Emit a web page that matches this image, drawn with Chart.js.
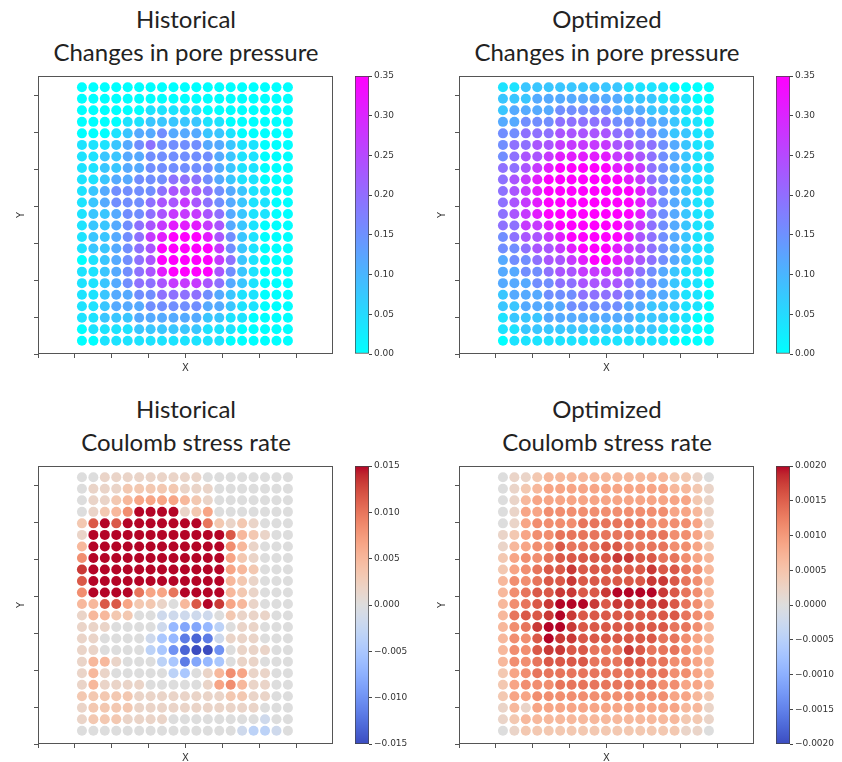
<!DOCTYPE html>
<html>
<head>
<meta charset="utf-8">
<script src="https://cdn.jsdelivr.net/npm/chart.js@4.4.0/dist/chart.umd.min.js"></script>
<style>
  html, body { margin: 0; padding: 0; background: #fff; }
  body { position: relative; width: 842px; height: 762px; overflow: hidden; }
  .title {
    position: absolute; width: 320px; text-align: center;
    font-family: Lato, "Open Sans", sans-serif; font-size: 24px; line-height: 33px; color: #222;
  }
  canvas { position: absolute; }
</style>
</head>
<body>
<div id="stage"></div>
<script>
// Grid values, one string per row (top row first), one character per column.
// Digits 0-9 are positive levels, letters a-i are negative levels -1..-9.
const HIST_PORE = [
  "0000000000000000000",
  "0000000000000000000",
  "0000001111100000000",
  "0000112222211000000",
  "0001233433322100000",
  "1112345444433211000",
  "1122334444443211000",
  "1122334444443211000",
  "1123344455543211000",
  "1234444566654321100",
  "1234445667654321100",
  "1223445677765321100",
  "1223456788876321000",
  "1223457899986421000",
  "1223456999997421000",
  "0123456999997521000",
  "1123456899996421000",
  "1123455677765321000",
  "1123344555543211000",
  "1123334444433211000",
  "1122233333322110000",
  "0111122222211100000",
  "0011111111111000000"
];
const OPT_PORE = [
  "1122222222211110000",
  "2223333333322211100",
  "2333344444333222110",
  "3344455555444332110",
  "4455566666554432211",
  "4556677777665543211",
  "4566788888776543211",
  "5567899999887543211",
  "5678999999987543211",
  "5678999999998643211",
  "5678999999998643211",
  "5678999999998543211",
  "5577899999987543211",
  "4566789999986543211",
  "4456678999876543211",
  "3445667899876543211",
  "3344566777765432110",
  "3334455666654432110",
  "2333444555544332110",
  "2233334444433222110",
  "1222333333332221100",
  "1122222222222211100",
  "0111111111111110000"
];
const HIST_CFS = [
  "0011111111100000000",
  "0111222221110000000",
  "0112344443210000000",
  "0123599991240000000",
  "2797999999962121000",
  "1999999999999732100",
  "3999999999999531000",
  "5999999999999421000",
  "8999999999999432000",
  "7999999999999321000",
  "5999964469999321000",
  "3377422103798431000",
  "1332200aaaaa0211100",
  "1110000adeedb011000",
  "110000acdghga111000",
  "110000bcfhiif011100",
  "1331000bcgedc011000",
  "13100000bc013541100",
  "1311110000014531100",
  "2222211111111221100",
  "1222211111111111000",
  "1222111100000000a00",
  "00000000000000abba0"
];
const OPT_CFS = [
  "0112333333333332210",
  "0123444444444443321",
  "0134444444444444421",
  "0144555555555554431",
  "0145555666666555541",
  "1245566666666665542",
  "1345576667766665542",
  "2455677777887766543",
  "2456778777777877653",
  "3556778777777887653",
  "3567788778999987653",
  "3567899987888887653",
  "3677898777777777654",
  "3568998777777776653",
  "3557988777777766543",
  "3557887766687666543",
  "3556777766677665543",
  "2456666666666665543",
  "2455566666666655443",
  "2445555555555554432",
  "1314444444444444331",
  "1233333333333333221",
  "0122222222222222110"
];

// colorbar ticks
const PORE_TICKS = [0, 0.05, 0.10, 0.15, 0.20, 0.25, 0.30, 0.35];
const CFS_HIST_TICKS = [-0.015, -0.010, -0.005, 0, 0.005, 0.010, 0.015];
const CFS_OPT_TICKS = [-0.0020, -0.0015, -0.0010, -0.0005, 0, 0.0005, 0.0010, 0.0015, 0.0020];

// axis limits of the scatter plots, in grid units
const X_MIN = -3.84, X_MAX = 21.94, X_STEP = 3.225;
const Y_MIN = -1.15, Y_MAX = 22.98, Y_STEP = 3.2;

// matplotlib "coolwarm" sampled
const COOLWARM = [
  [59,76,192],[68,90,204],[77,104,215],[87,117,225],[98,130,234],[108,142,241],
  [119,154,247],[130,165,251],[141,176,254],[152,185,255],[163,194,255],[174,201,253],
  [184,208,249],[194,213,244],[204,217,238],[213,219,230],[221,221,221],[229,216,209],
  [236,211,197],[241,204,184],[245,196,172],[247,187,160],[247,177,148],[247,166,135],
  [244,154,123],[241,141,111],[236,127,99],[229,112,88],[222,96,77],[213,80,66],
  [203,62,56],[192,40,47],[180,4,38]
];

function cool(t) {
  t = Math.max(0, Math.min(1, t));
  return `rgb(${Math.round(255 * t)},${Math.round(255 * (1 - t))},255)`;
}
function coolwarm(t) {
  t = Math.max(0, Math.min(1, t));
  const p = t * (COOLWARM.length - 1);
  const i = Math.min(Math.floor(p), COOLWARM.length - 2);
  const f = p - i;
  const a = COOLWARM[i], b = COOLWARM[i + 1];
  const c = a.map((v, k) => Math.round(v + (b[k] - v) * f));
  return `rgb(${c[0]},${c[1]},${c[2]})`;
}

function decode(rows, step) {
  const pts = [];
  rows.forEach((row, r) => {
    [...row].forEach((ch, c) => {
      const lvl = (ch >= 'a' && ch <= 'i') ? -(ch.charCodeAt(0) - 96) : Number(ch);
      pts.push({ x: c, y: rows.length - 1 - r, v: lvl * step });
    });
  });
  return pts;
}

const stage = document.getElementById('stage');
function addCanvas(left, top, w, h) {
  const c = document.createElement('canvas');
  c.width = w; c.height = h;
  c.style.left = left + 'px'; c.style.top = top + 'px';
  c.style.width = w + 'px'; c.style.height = h + 'px';
  stage.appendChild(c);
  return c;
}
function addTitle(left, top, lines) {
  const d = document.createElement('div');
  d.className = 'title';
  d.style.left = left + 'px'; d.style.top = top + 'px';
  d.innerHTML = lines.join('<br>');
  stage.appendChild(d);
}

// strokes the full axes box like a matplotlib spine set
const boxPlugin = {
  id: 'box',
  afterDraw(chart) {
    const a = chart.chartArea, ctx = chart.ctx;
    ctx.save();
    ctx.strokeStyle = '#555';
    ctx.lineWidth = 1;
    ctx.strokeRect(Math.round(a.left) + 0.5, Math.round(a.top) + 0.5,
      Math.round(a.right - a.left) - 1, Math.round(a.bottom - a.top) - 1);
    ctx.restore();
  }
};

function evenTicks(min, max, step) {
  const out = [];
  for (let v = min; v <= max + 1e-6; v += step) out.push({ value: v });
  return out;
}

function scatterPanel(ox, oy, rows, step, cmap, vmin, vmax) {
  const cv = addCanvas(ox + 6, oy + 70, 332, 310);
  const axisTitle = { display: true, font: { family: 'DejaVu Sans', size: 10 }, color: '#333', padding: { top: 3, bottom: 4 } };
  new Chart(cv, {
    type: 'scatter',
    data: {
      datasets: [{
        data: decode(rows, step),
        pointRadius: 5,
        pointHoverRadius: 5,
        borderWidth: 0,
        backgroundColor: ctx => cmap((ctx.raw.v - vmin) / (vmax - vmin))
      }]
    },
    options: {
      responsive: false,
      animation: false,
      devicePixelRatio: 1,
      layout: { padding: { left: 6, top: 6, right: 4, bottom: 2 } },
      plugins: { legend: { display: false }, tooltip: { enabled: false } },
      scales: {
        x: {
          type: 'linear', min: X_MIN, max: X_MAX,
          afterBuildTicks: s => { s.ticks = evenTicks(X_MIN, X_MAX, X_STEP); },
          afterFit: s => { s.height = 24; },
          ticks: { display: false },
          grid: { drawOnChartArea: false, drawTicks: true, tickLength: 4, color: '#555' },
          border: { display: false },
          title: Object.assign({ text: 'X' }, axisTitle)
        },
        y: {
          type: 'linear', min: Y_MIN, max: Y_MAX,
          afterBuildTicks: s => { s.ticks = evenTicks(Y_MIN, Y_MAX, Y_STEP); },
          afterFit: s => { s.width = 26; },
          ticks: { display: false },
          grid: { drawOnChartArea: false, drawTicks: true, tickLength: 4, color: '#555' },
          border: { display: false },
          title: Object.assign({ text: 'Y' }, axisTitle)
        }
      }
    },
    plugins: [boxPlugin]
  });
}

function colorbar(ox, oy, ticks, digits, cmap) {
  const cv = addCanvas(ox + 347, oy + 68, 80, 296);
  const vmin = ticks[0], vmax = ticks[ticks.length - 1];
  new Chart(cv, {
    type: 'bar',
    data: {
      labels: [''],
      datasets: [{
        data: [[vmin, vmax]],
        barPercentage: 1,
        categoryPercentage: 1,
        borderWidth: 1,
        borderColor: '#444',
        borderSkipped: false,
        backgroundColor: ctx => {
          const a = ctx.chart.chartArea;
          if (!a) return '#ccc';
          const g = ctx.chart.ctx.createLinearGradient(0, a.bottom, 0, a.top);
          for (let i = 0; i <= 32; i++) g.addColorStop(i / 32, cmap(i / 32));
          return g;
        }
      }]
    },
    options: {
      responsive: false,
      animation: false,
      devicePixelRatio: 1,
      layout: { padding: { left: 8, top: 8, right: 0, bottom: 10 } },
      plugins: { legend: { display: false }, tooltip: { enabled: false } },
      scales: {
        x: { display: false },
        y: {
          position: 'right', min: vmin, max: vmax,
          afterBuildTicks: s => { s.ticks = ticks.map(v => ({ value: v })); },
          afterFit: s => { s.width = 58; },
          ticks: {
            padding: 2,
            color: '#333',
            font: { family: 'DejaVu Sans', size: 9 },
            callback: v => v.toFixed(digits).replace('-', '\u2212')
          },
          grid: { drawOnChartArea: false, drawTicks: true, tickLength: 3, color: '#444' },
          border: { display: false }
        }
      }
    }
  });
}

const PANELS = [
  { ox: 0, oy: 0, title: ['Historical', 'Changes in pore pressure'], rows: HIST_PORE, ticks: PORE_TICKS, digits: 2, cmap: cool },
  { ox: 421, oy: 0, title: ['Optimized', 'Changes in pore pressure'], rows: OPT_PORE, ticks: PORE_TICKS, digits: 2, cmap: cool },
  { ox: 0, oy: 390, title: ['Historical', 'Coulomb stress rate'], rows: HIST_CFS, ticks: CFS_HIST_TICKS, digits: 3, cmap: coolwarm },
  { ox: 421, oy: 390, title: ['Optimized', 'Coulomb stress rate'], rows: OPT_CFS, ticks: CFS_OPT_TICKS, digits: 4, cmap: coolwarm }
];

PANELS.forEach(p => {
  const vmin = p.ticks[0], vmax = p.ticks[p.ticks.length - 1];
  const step = Math.max(Math.abs(vmin), Math.abs(vmax)) / 9;
  addTitle(p.ox + 26, p.oy + 2, p.title);
  scatterPanel(p.ox, p.oy, p.rows, step, p.cmap, vmin, vmax);
  colorbar(p.ox, p.oy, p.ticks, p.digits, p.cmap);
});
</script>
</body>
</html>
